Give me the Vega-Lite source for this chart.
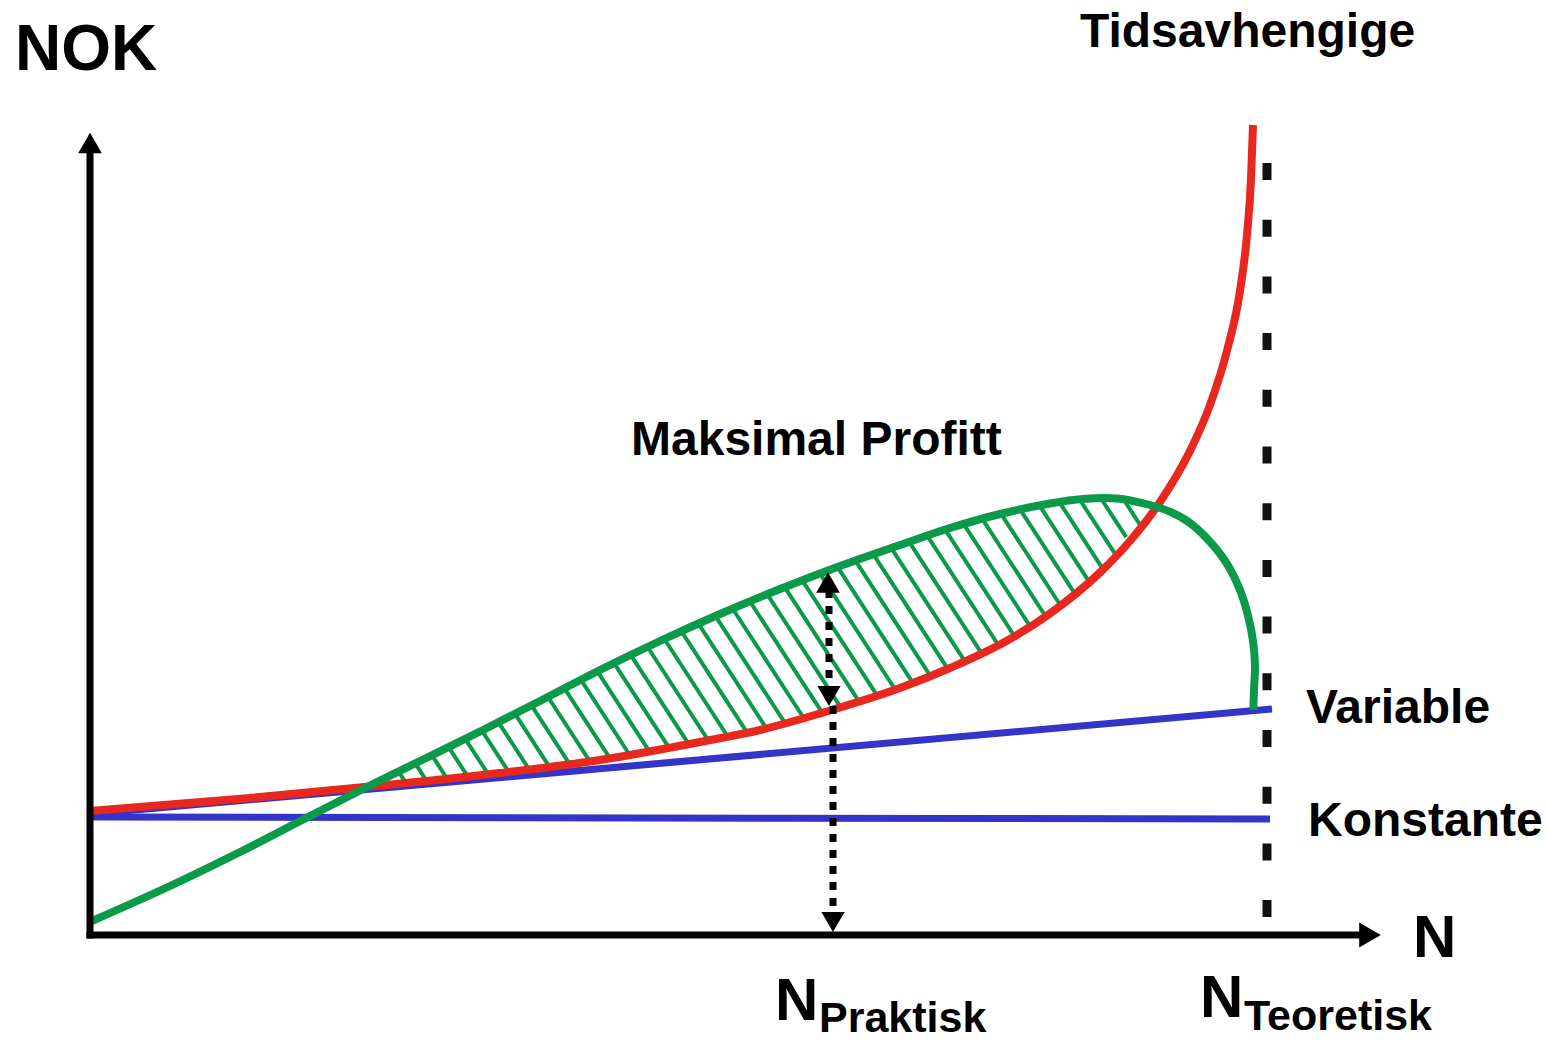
{
  "$schema": "https://vega.github.io/schema/vega-lite/v6.json",
  "width": 1547,
  "height": 1041,
  "autosize": {"type": "fit", "contains": "padding"},
  "padding": 0,
  "background": "white",
  "config": {"view": {"stroke": null}, "text": {"font": "Liberation Sans", "fontWeight": "bold", "color": "black", "align": "left", "baseline": "alphabetic"}},
  "datasets": {
    "hatch": [
      {"N": 30.93, "NOK": 16.22, "N2": 31.48, "NOK2": 15.38},
      {"N": 32.64, "NOK": 16.98, "N2": 33.54, "NOK2": 15.59},
      {"N": 34.30, "NOK": 17.81, "N2": 35.59, "NOK2": 15.82},
      {"N": 35.96, "NOK": 18.64, "N2": 37.65, "NOK2": 16.04},
      {"N": 37.62, "NOK": 19.47, "N2": 39.71, "NOK2": 16.25},
      {"N": 39.29, "NOK": 20.28, "N2": 41.76, "NOK2": 16.48},
      {"N": 40.90, "NOK": 21.19, "N2": 43.81, "NOK2": 16.72},
      {"N": 42.52, "NOK": 22.08, "N2": 45.87, "NOK2": 16.93},
      {"N": 44.13, "NOK": 22.99, "N2": 47.92, "NOK2": 17.16},
      {"N": 45.77, "NOK": 23.85, "N2": 49.97, "NOK2": 17.39},
      {"N": 47.43, "NOK": 24.68, "N2": 51.98, "NOK2": 17.68},
      {"N": 49.08, "NOK": 25.53, "N2": 53.94, "NOK2": 18.05},
      {"N": 50.74, "NOK": 26.36, "N2": 55.90, "NOK2": 18.42},
      {"N": 52.42, "NOK": 27.16, "N2": 57.85, "NOK2": 18.81},
      {"N": 54.10, "NOK": 27.96, "N2": 59.81, "NOK2": 19.18},
      {"N": 55.79, "NOK": 28.75, "N2": 61.77, "NOK2": 19.55},
      {"N": 57.47, "NOK": 29.55, "N2": 63.74, "NOK2": 19.90},
      {"N": 59.16, "NOK": 30.33, "N2": 65.70, "NOK2": 20.27},
      {"N": 60.84, "NOK": 31.13, "N2": 67.63, "NOK2": 20.68},
      {"N": 62.53, "NOK": 31.92, "N2": 69.49, "NOK2": 21.21},
      {"N": 64.22, "NOK": 32.70, "N2": 71.34, "NOK2": 21.75},
      {"N": 65.91, "NOK": 33.48, "N2": 73.20, "NOK2": 22.27},
      {"N": 67.63, "NOK": 34.22, "N2": 75.04, "NOK2": 22.82},
      {"N": 69.40, "NOK": 34.88, "N2": 76.86, "NOK2": 23.41},
      {"N": 71.18, "NOK": 35.53, "N2": 78.69, "NOK2": 23.98},
      {"N": 72.96, "NOK": 36.18, "N2": 80.52, "NOK2": 24.55},
      {"N": 74.73, "NOK": 36.84, "N2": 82.27, "NOK2": 25.24},
      {"N": 76.51, "NOK": 37.48, "N2": 84.00, "NOK2": 25.96},
      {"N": 78.29, "NOK": 38.13, "N2": 85.73, "NOK2": 26.68},
      {"N": 80.08, "NOK": 38.76, "N2": 87.44, "NOK2": 27.44},
      {"N": 81.87, "NOK": 39.39, "N2": 89.15, "NOK2": 28.19},
      {"N": 83.67, "NOK": 40.01, "N2": 90.86, "NOK2": 28.95},
      {"N": 85.47, "NOK": 40.62, "N2": 92.43, "NOK2": 29.92},
      {"N": 87.32, "NOK": 41.16, "N2": 93.98, "NOK2": 30.92},
      {"N": 89.18, "NOK": 41.68, "N2": 95.54, "NOK2": 31.90},
      {"N": 91.04, "NOK": 42.21, "N2": 96.99, "NOK2": 33.05},
      {"N": 92.99, "NOK": 42.59, "N2": 98.40, "NOK2": 34.27},
      {"N": 94.93, "NOK": 42.99, "N2": 99.81, "NOK2": 35.48},
      {"N": 96.91, "NOK": 43.33, "N2": 101.20, "NOK2": 36.73},
      {"N": 98.91, "NOK": 43.64, "N2": 102.46, "NOK2": 38.18},
      {"N": 101.04, "NOK": 43.75, "N2": 103.62, "NOK2": 39.78},
      {"N": 103.30, "NOK": 43.65, "N2": 104.98, "NOK2": 41.07}
    ],
    "blue": [
      {"series": "Konstante", "N": 0, "NOK": 11.8, "N2": 118.0, "NOK2": 11.6},
      {"series": "Variable", "N": 0, "NOK": 12.1, "N2": 118.2, "NOK2": 22.6}
    ],
    "red": [
      {"N": 0, "NOK": 12.4}, {"N": 16, "NOK": 13.7}, {"N": 28, "NOK": 14.85},
      {"N": 41, "NOK": 16.2}, {"N": 51, "NOK": 17.5}, {"N": 61, "NOK": 19.3},
      {"N": 67, "NOK": 20.5}, {"N": 74, "NOK": 22.45}, {"N": 81, "NOK": 24.7},
      {"N": 86, "NOK": 26.7}, {"N": 91, "NOK": 29.05}, {"N": 96, "NOK": 32.15},
      {"N": 101, "NOK": 36.25}, {"N": 104, "NOK": 39.4}, {"N": 107, "NOK": 43.3},
      {"N": 110, "NOK": 48.4}, {"N": 112, "NOK": 53.0}, {"N": 113.7, "NOK": 58.44},
      {"N": 115, "NOK": 64.42}, {"N": 115.7, "NOK": 70.02}, {"N": 116.1, "NOK": 75.62},
      {"N": 116.3, "NOK": 81.0}
    ],
    "green": [
      {"i": 0, "N": 0.2, "NOK": 1.4}, {"i": 1, "N": 8, "NOK": 4.9},
      {"i": 2, "N": 15, "NOK": 8.3}, {"i": 3, "N": 22, "NOK": 11.9},
      {"i": 4, "N": 27.7, "NOK": 14.8}, {"i": 5, "N": 33, "NOK": 17.4},
      {"i": 6, "N": 39.3, "NOK": 20.5}, {"i": 7, "N": 45, "NOK": 23.4},
      {"i": 8, "N": 51, "NOK": 26.5}, {"i": 9, "N": 57, "NOK": 29.4},
      {"i": 10, "N": 63, "NOK": 32.1}, {"i": 11, "N": 69, "NOK": 34.6},
      {"i": 12, "N": 75, "NOK": 36.9}, {"i": 13, "N": 81, "NOK": 39.0},
      {"i": 14, "N": 86, "NOK": 40.7}, {"i": 15, "N": 91, "NOK": 42.1},
      {"i": 16, "N": 96, "NOK": 43.15}, {"i": 17, "N": 99.3, "NOK": 43.6},
      {"i": 18, "N": 102.7, "NOK": 43.65}, {"i": 19, "N": 106, "NOK": 43.0},
      {"i": 20, "N": 108, "NOK": 42.33}, {"i": 21, "N": 110, "NOK": 41.2},
      {"i": 22, "N": 112, "NOK": 39.33}, {"i": 23, "N": 113.67, "NOK": 37.17},
      {"i": 24, "N": 115, "NOK": 34.5}, {"i": 25, "N": 115.83, "NOK": 31.83},
      {"i": 26, "N": 116.33, "NOK": 29.17}, {"i": 27, "N": 116.5, "NOK": 26.83},
      {"i": 28, "N": 116.4, "NOK": 24.5}, {"i": 29, "N": 116.33, "NOK": 22.5}
    ],
    "theoretical": [{"N": 117.7, "NOK": 77.2, "N2": 117.7, "NOK2": 1.7}],
    "dotted": [
      {"N": 73.9, "NOK": 34.5, "N2": 73.9, "NOK2": 24.7},
      {"N": 74.3, "NOK": 22.9, "N2": 74.3, "NOK2": 2.2}
    ],
    "axes": [
      {"axis": "NOK", "N": 0, "NOK": -0.35, "N2": 0, "NOK2": 78.5},
      {"axis": "N", "N": -0.35, "NOK": 0, "N2": 127.2, "NOK2": 0}
    ],
    "arrowUp": [{"N": 0, "NOK": 79.2}, {"N": 73.8, "NOK": 35.25}],
    "arrowDown": [{"N": 73.9, "NOK": 23.9}, {"N": 74.3, "NOK": 1.3}],
    "arrowRight": [{"N": 128.0, "NOK": 0}],
    "labelsBig": [{"N": -7.5, "NOK": 86.5, "label": "NOK"}],
    "labelsMid": [
      {"N": 99.0, "NOK": 88.8, "label": "Tidsavhengige"},
      {"N": 54.1, "NOK": 48.0, "label": "Maksimal Profitt"},
      {"N": 121.6, "NOK": 21.2, "label": "Variable"},
      {"N": 121.8, "NOK": 9.9, "label": "Konstante"}
    ],
    "labelsN": [
      {"N": 132.3, "NOK": -2.2, "label": "N"},
      {"N": 68.5, "NOK": -8.5, "label": "N"},
      {"N": 111.0, "NOK": -8.2, "label": "N"}
    ],
    "labelsSub": [
      {"N": 72.9, "NOK": -9.7, "label": "Praktisk"},
      {"N": 115.4, "NOK": -9.5, "label": "Teoretisk"}
    ]
  },
  "encoding": {
    "x": {"field": "N", "type": "quantitative", "scale": {"domain": [-9, 145.7], "nice": false, "zero": false}, "axis": null},
    "y": {"field": "NOK", "type": "quantitative", "scale": {"domain": [-10.6, 93.5], "nice": false, "zero": false}, "axis": null}
  },
  "layer": [
    {"data": {"name": "hatch"}, "mark": {"type": "rule", "color": "#0a9a4a", "strokeWidth": 4},
     "encoding": {"x2": {"field": "N2"}, "y2": {"field": "NOK2"}}},
    {"data": {"name": "blue"}, "mark": {"type": "rule", "color": "#3434c8", "strokeWidth": 7},
     "encoding": {"x2": {"field": "N2"}, "y2": {"field": "NOK2"}}},
    {"data": {"name": "red"}, "mark": {"type": "line", "color": "#e8281f", "strokeWidth": 8, "interpolate": "monotone"},
     "encoding": {}},
    {"data": {"name": "green"}, "mark": {"type": "line", "color": "#0a9a4a", "strokeWidth": 8, "interpolate": "catmull-rom"},
     "encoding": {"order": {"field": "i", "type": "quantitative"}}},
    {"data": {"name": "theoretical"}, "mark": {"type": "rule", "color": "#111111", "strokeWidth": 9, "strokeDash": [17, 39.7], "strokeCap": "butt"},
     "encoding": {"x2": {"field": "N2"}, "y2": {"field": "NOK2"}}},
    {"data": {"name": "dotted"}, "mark": {"type": "rule", "color": "black", "strokeWidth": 7, "strokeDash": [8, 8], "strokeCap": "butt"},
     "encoding": {"x2": {"field": "N2"}, "y2": {"field": "NOK2"}}},
    {"data": {"name": "axes"}, "mark": {"type": "rule", "color": "black", "strokeWidth": 7, "strokeCap": "butt"},
     "encoding": {"x2": {"field": "N2"}, "y2": {"field": "NOK2"}}},
    {"data": {"name": "arrowUp"}, "mark": {"type": "point", "shape": "triangle-up", "filled": true, "color": "black", "opacity": 1, "size": 560}},
    {"data": {"name": "arrowDown"}, "mark": {"type": "point", "shape": "triangle-down", "filled": true, "color": "black", "opacity": 1, "size": 540}},
    {"data": {"name": "arrowRight"}, "mark": {"type": "point", "shape": "triangle-right", "filled": true, "color": "black", "opacity": 1, "size": 625}},
    {"data": {"name": "labelsBig"}, "mark": {"type": "text", "fontSize": 64}, "encoding": {"text": {"field": "label"}}},
    {"data": {"name": "labelsMid"}, "mark": {"type": "text", "fontSize": 48}, "encoding": {"text": {"field": "label"}}},
    {"data": {"name": "labelsN"}, "mark": {"type": "text", "fontSize": 60}, "encoding": {"text": {"field": "label"}}},
    {"data": {"name": "labelsSub"}, "mark": {"type": "text", "fontSize": 43}, "encoding": {"text": {"field": "label"}}}
  ]
}
